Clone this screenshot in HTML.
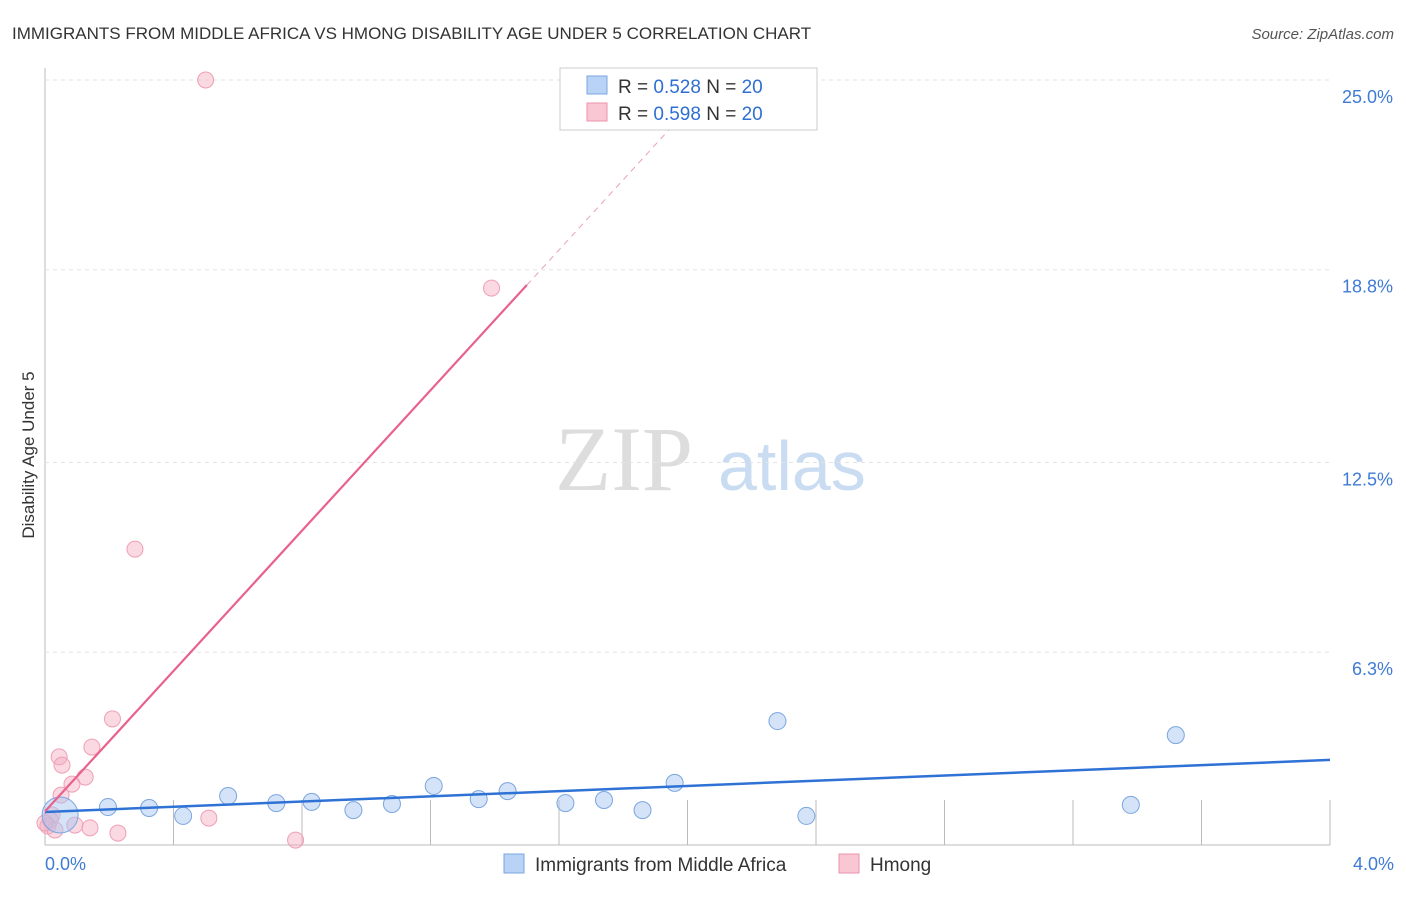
<!DOCTYPE html>
<html><head><meta charset="utf-8"><style>
body{margin:0;background:#fff;font-family:"Liberation Sans",sans-serif}
</style></head><body>
<svg id="c" width="1406" height="892" xmlns="http://www.w3.org/2000/svg" style="font-family:'Liberation Sans',sans-serif">
<text x="12" y="39" font-size="17" fill="#333">IMMIGRANTS FROM MIDDLE AFRICA VS HMONG DISABILITY AGE UNDER 5 CORRELATION CHART</text>
<text x="1394" y="39" font-size="15" fill="#555" text-anchor="end" font-style="italic">Source: ZipAtlas.com</text>
<text x="34" y="455" font-size="17" fill="#333" text-anchor="middle" transform="rotate(-90 34 455)">Disability Age Under 5</text>
<g><text x="555" y="490" font-size="92" fill="#ddd" font-family="Liberation Serif">ZIP</text><text x="718" y="490" font-size="70" fill="#c9dcf2">atlas</text></g>
<g id="grid"></g><g id="marks"></g>
<g>
<rect x="560" y="68" width="257" height="62" fill="#fff" stroke="#ccc"/>
<rect x="587" y="76" width="20" height="18" fill="#b8d3f5" stroke="#7aa6e0"/>
<text x="618" y="93" font-size="19" fill="#333">R = <tspan fill="#2f6fd0">0.528</tspan>   N = <tspan fill="#2f6fd0">20</tspan></text>
<rect x="587" y="103" width="20" height="18" fill="#f9c6d4" stroke="#eb93ab"/>
<text x="618" y="120" font-size="19" fill="#333">R = <tspan fill="#2f6fd0">0.598</tspan>   N = <tspan fill="#2f6fd0">20</tspan></text>
</g>
<g>
<rect x="504" y="854" width="20" height="19" fill="#b8d3f5" stroke="#7aa6e0"/>
<text x="535" y="871" font-size="19" fill="#333">Immigrants from Middle Africa</text>
<rect x="839" y="854" width="20" height="19" fill="#f9c6d4" stroke="#eb93ab"/>
<text x="870" y="871" font-size="19" fill="#333">Hmong</text>
</g>
</svg>
<script>
const yTicks=[6.3,12.5,18.8,25.0];
const xTickVals=[0,0.4,0.8,1.2,1.6,2.0,2.4,2.8,3.2,3.6,4.0];
const blueX=[0.047,0.196,0.324,0.43,0.57,0.72,0.83,0.96,1.08,1.21,1.35,1.44,1.62,1.74,1.86,1.96,2.28,2.37,3.38,3.52];
const blueY=[0.98,1.24,1.21,0.95,1.60,1.37,1.41,1.14,1.34,1.93,1.50,1.76,1.37,1.47,1.14,2.03,4.05,0.95,1.31,3.59];
const pinkX=[0.50,1.39,0.28,0.21,0.146,0.044,0.053,0.125,0.084,0.05,0.022,0.016,0.009,0.031,0.093,0.14,0.227,0.51,0.78,0.0];
const pinkY=[25.0,18.2,9.67,4.12,3.20,2.88,2.61,2.22,1.99,1.63,0.98,0.82,0.62,0.49,0.65,0.56,0.39,0.88,0.16,0.72];
const blueLine=[1.08,2.78];
const pinkLine=[1.1,18.3,1.5];
const X=v=>45+v/4*1285, Y=v=>845-v/25*765;
const NS="http://www.w3.org/2000/svg";
function mk(t,a,p){const e=document.createElementNS(NS,t);for(const k in a)e.setAttribute(k,a[k]);p.appendChild(e);return e;}
const g=document.getElementById('grid'),m=document.getElementById('marks');
let ax=mk('line',{x1:45,y1:68,x2:45,y2:845,stroke:'#bbb'},g);


let bx=mk('line',{x1:45,y1:845,x2:1330,y2:845,stroke:'#bbb'},g);


yTicks.forEach(t=>{
 let l=mk('line',{x1:45,y1:Y(t),x2:1330,y2:Y(t),stroke:'#e3e3e3','stroke-dasharray':'4 4'},g);
 
 
 let tx=mk('text',{x:1393,y:Y(t)+23,'font-size':18,fill:'#3f7bd4','text-anchor':'end'},g);tx.textContent=t.toFixed(1)+'%';
 
 
});
xTickVals.slice(1).forEach(t=>{
 let l=mk('line',{x1:X(t),y1:800,x2:X(t),y2:845,stroke:'#bbb'},g);
 
 
});
[[0,'0.0%','start',45],[4,'4.0%','end',1394]].forEach(a=>{
 let tx=mk('text',{x:a[3],y:870,'font-size':18,fill:'#3f7bd4','text-anchor':a[2]},g);tx.textContent=a[1];
 
 
});
pinkX.forEach((x,i)=>{
 let c=mk('circle',{cx:X(x),cy:Y(pinkY[i]),r:8,fill:'rgba(245,170,192,0.45)',stroke:'#ee9fb5','stroke-width':1},m);
 
 
});
blueX.forEach((x,i)=>{
 let c=mk('circle',{cx:X(x),cy:Y(blueY[i]),r:i==0?18:8.5,fill:'rgba(170,200,240,0.5)',stroke:'#7aa6e0','stroke-width':1},m);
 
 
});
let bl=mk('line',{x1:X(0),y1:Y(blueLine[0]),x2:X(4),y2:Y(blueLine[1]),stroke:'#2f72d6','stroke-width':2.5},m);


const slope=(pinkLine[1]-pinkLine[0])/pinkLine[2];
let pl=mk('line',{x1:X(0),y1:Y(pinkLine[0]),x2:X(pinkLine[2]),y2:Y(pinkLine[1]),stroke:'#e8628c','stroke-width':2.2},m);


const xe=2.1;
let pd=mk('line',{x1:X(pinkLine[2]),y1:Y(pinkLine[1]),x2:X(xe),y2:Y(pinkLine[0]+slope*xe),stroke:'#eaa0b6','stroke-width':1,'stroke-dasharray':'6 5'},m);


</script>
</body></html>
